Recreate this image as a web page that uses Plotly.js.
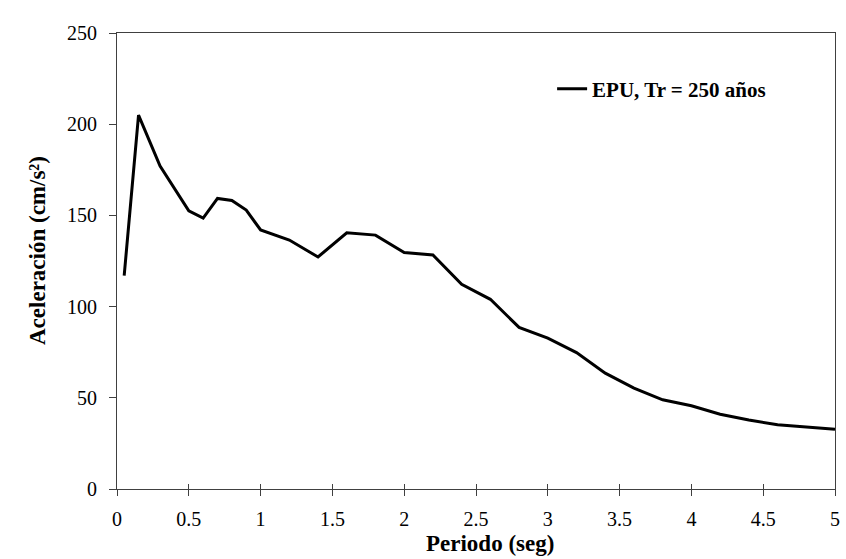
<!DOCTYPE html>
<html>
<head>
<meta charset="utf-8">
<script src="https://cdn.plot.ly/plotly-3.0.1.min.js"></script>
<style>html,body{margin:0;padding:0;background:#fff;}#chart{width:846px;height:559px;}</style>
</head>
<body>
<div id="chart"></div>
<script>
const periodo = [0.05, 0.15, 0.3, 0.4, 0.5, 0.6, 0.7, 0.8, 0.9, 1.0, 1.2, 1.4, 1.6, 1.8, 2.0, 2.2, 2.4, 2.6, 2.8, 3.0, 3.2, 3.4, 3.6, 3.8, 4.0, 4.2, 4.4, 4.6, 4.8, 5.0];
const aceleracion = [117, 205, 177, 165, 152.5, 148.5, 159.3, 158.2, 152.9, 142, 136.5, 127.2, 140.5, 139.2, 129.6, 128.3, 112.2, 104, 88.6, 82.7, 74.8, 63.5, 55.3, 48.9, 45.6, 41.0, 37.8, 35.2, 33.9, 32.8];
const serieNombre = "EPU, Tr = 250 años";
const xTicks = [0, 0.5, 1, 1.5, 2, 2.5, 3, 3.5, 4, 4.5, 5];
const xTickText = ["0", "0.5", "1", "1.5", "2", "2.5", "3", "3.5", "4", "4.5", "5"];
const yTicks = [0, 50, 100, 150, 200, 250];
const xTitulo = "Periodo (seg)";
const yTitulo = "Aceleración (cm/s²)";

const serif = "Liberation Serif";
const axisColor = "#404040";

const trace = {
  x: periodo, y: aceleracion, type: "scatter", mode: "lines",
  name: serieNombre,
  line: {color: "#000000", width: 3}
};
// same data on an overlay axis, only to get inside tick marks on the x axis
const overlay = {
  x: periodo, y: aceleracion, type: "scatter", mode: "lines",
  xaxis: "x2", yaxis: "y", showlegend: false, hoverinfo: "skip",
  line: {color: "rgba(0,0,0,0)", width: 0}
};

const layout = {
  width: 846, height: 559,
  margin: {l: 117, r: 11, t: 33, b: 70},
  paper_bgcolor: "#ffffff", plot_bgcolor: "#ffffff",
  font: {family: serif, color: "#000000", size: 20},
  showlegend: true,
  legend: {
    x: 0.606, y: 0.877, xanchor: "left", yanchor: "middle",
    bgcolor: "rgba(0,0,0,0)",
    font: {family: serif, size: 21, weight: "bold", color: "#000"}
  },
  xaxis: {
    range: [0, 5], tickvals: xTicks, ticktext: xTickText,
    ticks: "outside", ticklen: 6, tickcolor: axisColor, tickwidth: 1,
    ticklabelstandoff: 6,
    showline: true, linecolor: axisColor, linewidth: 1, mirror: true,
    showgrid: false, zeroline: false,
    tickfont: {family: serif, size: 20, color: "#000"}
  },
  xaxis2: {
    range: [0, 5], tickvals: xTicks, overlaying: "x", anchor: "y", side: "bottom",
    ticks: "inside", ticklen: 5, tickcolor: axisColor, tickwidth: 1,
    showticklabels: false, showline: false, showgrid: false, zeroline: false
  },
  yaxis: {
    range: [0, 250], tickvals: yTicks,
    ticks: "outside", ticklen: 7, tickcolor: axisColor, tickwidth: 1,
    ticklabelstandoff: 8,
    showline: true, linecolor: axisColor, linewidth: 1, mirror: true,
    showgrid: false, zeroline: false,
    tickfont: {family: serif, size: 20, color: "#000"}
  },
  annotations: [
    {text: xTitulo, xref: "paper", yref: "paper", x: (490 - 117) / 718, y: (489 - 543) / 456,
     xanchor: "center", yanchor: "middle", showarrow: false,
     font: {family: serif, size: 23, weight: "bold", color: "#000"}},
    {text: yTitulo, xref: "paper", yref: "paper", x: (37 - 117) / 718, y: (489 - 251) / 456,
     xanchor: "center", yanchor: "middle", showarrow: false, textangle: -90,
     font: {family: serif, size: 23, weight: "bold", color: "#000"}}
  ]
};

Plotly.newPlot("chart", [trace, overlay], layout, {displayModeBar: false, staticPlot: true});
</script>
</body>
</html>
